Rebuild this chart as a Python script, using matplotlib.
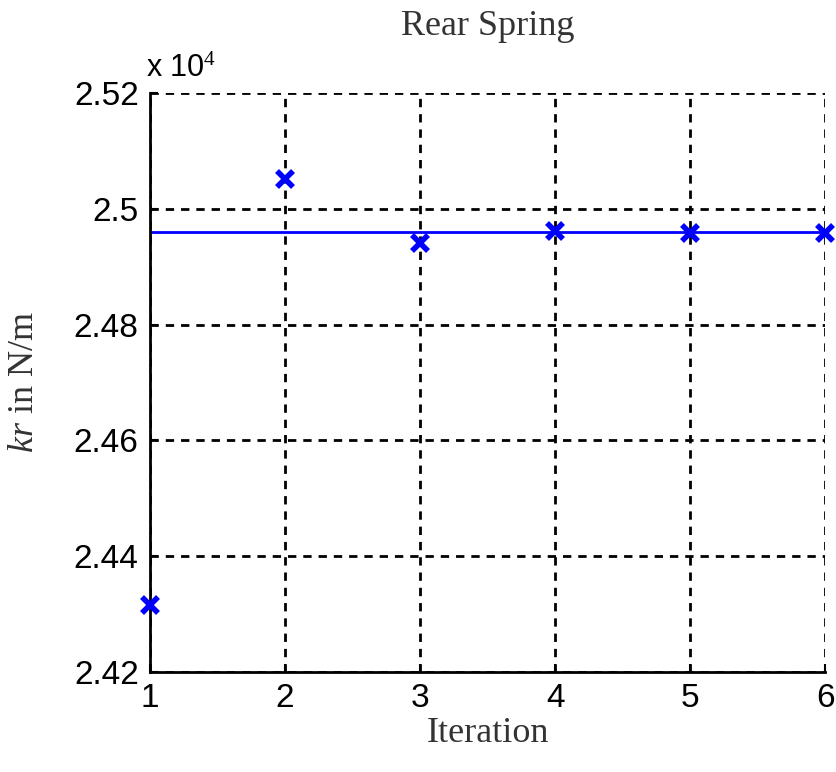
import matplotlib.pyplot as plt
import numpy as np

plt.rcParams['mathtext.fontset'] = 'custom'
plt.rcParams['mathtext.it'] = 'Liberation Serif:italic'
plt.rcParams['mathtext.rm'] = 'Liberation Serif'

# iteration data (kr in N/m)
iterations = [1, 2, 3, 4, 5, 6]
kr_values = [24316, 25051, 24941, 24962, 24958, 24959]
kr_final = 24960

x_ticks = [1, 2, 3, 4, 5, 6]
y_ticks = [2.42, 2.44, 2.46, 2.48, 2.50, 2.52]
y_tick_labels = ['2.42', '2.44', '2.46', '2.48', '2.5', '2.52']

fig = plt.figure(figsize=(8.37, 7.72), dpi=100)
ax = fig.add_axes([0.179, 0.1295, 0.807, 0.75])

scale = 1e4
ax.axhline(kr_final / scale, color='#0000ff', linewidth=2)
ax.plot(iterations, np.array(kr_values) / scale, linestyle='none', marker='x',
        markersize=11, markeredgewidth=4, color='#0000ff', clip_on=False, zorder=5)

ax.set_xlim(1, 6)
ax.set_ylim(2.42, 2.52)
ax.set_xticks(x_ticks)
ax.set_xticklabels([str(t) for t in x_ticks])
ax.set_yticks(y_ticks)
ax.set_yticklabels(y_tick_labels)

for lbl in ax.get_xticklabels() + ax.get_yticklabels():
    lbl.set_fontfamily('Liberation Sans')
    lbl.set_fontsize(24)
ax.tick_params(direction='in', length=6, width=1.5, pad=8, top=False, right=False)

ax.grid(True, color='black', linestyle=(0, (3, 2.5)), linewidth=2)
ax.spines['top'].set_visible(False)
ax.spines['right'].set_visible(False)
ax.spines['left'].set_linewidth(2)
ax.spines['bottom'].set_linewidth(2)

ax.text(-0.005, 1.015, r'x 10$^4$', transform=ax.transAxes, fontsize=22,
        fontfamily='Liberation Sans', ha='left', va='bottom')

ax.set_title('Rear Spring', fontsize=26, fontfamily='Liberation Serif', pad=42, color='#333333')
ax.set_xlabel('Iteration', fontsize=26, fontfamily='Liberation Serif', labelpad=2, color='#333333')
ax.set_ylabel(r'$\mathit{kr}$ in N/m', fontsize=26, fontfamily='Liberation Serif', labelpad=24, color='#333333')

fig.savefig('out.png', dpi=100)
